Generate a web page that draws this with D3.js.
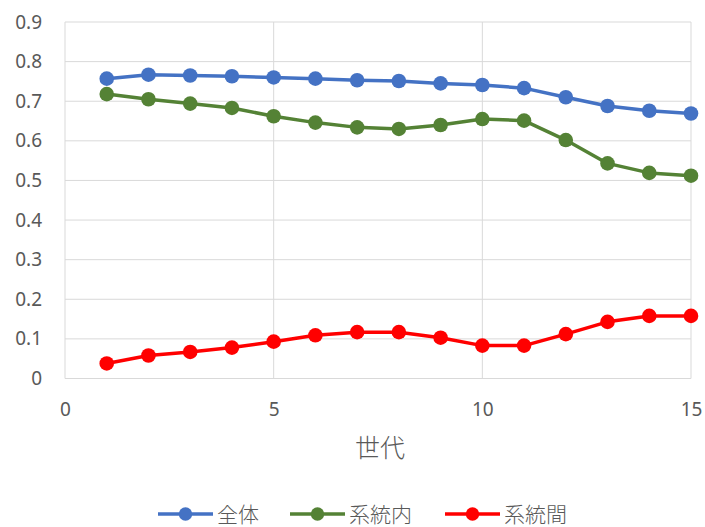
<!DOCTYPE html>
<html>
<head>
<meta charset="utf-8">
<script src="https://cdn.jsdelivr.net/npm/d3@7"></script>
<style>
  html, body { margin: 0; padding: 0; background: #fff; }
  svg text { font-family: "Noto Sans", "Noto Sans CJK JP", sans-serif; fill: #595959; }
  svg text.cjk { font-family: "Noto Sans CJK JP", sans-serif; font-weight: 300; }
</style>
</head>
<body>
<svg id="chart" width="705" height="527"></svg>
<script>
// Generations on the x axis
const generations = [1, 2, 3, 4, 5, 6, 7, 8, 9, 10, 11, 12, 13, 14, 15];

// Series values per generation
const overall = [0.757, 0.767, 0.765, 0.763, 0.760, 0.757, 0.753, 0.751, 0.745, 0.741, 0.733, 0.710, 0.688, 0.676, 0.669];
const withinLine = [0.718, 0.705, 0.694, 0.683, 0.662, 0.646, 0.634, 0.630, 0.640, 0.655, 0.651, 0.602, 0.543, 0.519, 0.512];
const betweenLine = [0.038, 0.058, 0.067, 0.078, 0.093, 0.109, 0.117, 0.117, 0.103, 0.083, 0.083, 0.112, 0.143, 0.158, 0.158];

const seriesNames = ["全体", "系統内", "系統間"];
const seriesColors = ["#4472C4", "#548235", "#FF0000"];

const xTicks = [0, 5, 10, 15];
const yTicks = [0, 0.1, 0.2, 0.3, 0.4, 0.5, 0.6, 0.7, 0.8, 0.9];
const xTitle = "世代";

const series = [overall, withinLine, betweenLine].map((vals, i) => ({
  name: seriesNames[i],
  color: seriesColors[i],
  points: vals.map((v, j) => ({ x: generations[j], y: v }))
}));

const svg = d3.select("#chart");
const margin = { left: 65, right: 14, top: 22, bottom: 148.5 };
const W = 705, H = 527;

const x = d3.scaleLinear().domain([0, 15]).range([margin.left, W - margin.right]);
const y = d3.scaleLinear().domain([0, 0.9]).range([H - margin.bottom, margin.top]);

// Gridlines
const grid = svg.append("g");
grid.selectAll("line.h").data(yTicks).join("line")
  .attr("x1", x(0)).attr("x2", x(15))
  .attr("y1", d => y(d)).attr("y2", d => y(d))
  .attr("stroke", "#D9D9D9").attr("stroke-width", 1);
grid.selectAll("line.v").data(xTicks).join("line")
  .attr("y1", y(0)).attr("y2", y(0.9))
  .attr("x1", d => x(d)).attr("x2", d => x(d))
  .attr("stroke", "#D9D9D9").attr("stroke-width", 1);

// Y axis
const yAxis = svg.append("g")
  .attr("transform", `translate(${margin.left},0)`)
  .call(d3.axisLeft(y).tickValues(yTicks).tickSize(0).tickPadding(23)
    .tickFormat(d => d === 0 ? "0" : d3.format(".1f")(d)));
yAxis.select(".domain").remove();
yAxis.selectAll("text").style("font-size", "19px").attr("fill", "#595959");

// X axis
const xAxis = svg.append("g")
  .attr("transform", `translate(0,${y(0)})`)
  .call(d3.axisBottom(x).tickValues(xTicks).tickSize(0).tickPadding(24));
xAxis.select(".domain").remove();
xAxis.selectAll("text").style("font-size", "19px").attr("fill", "#595959");

// X axis title
svg.append("text")
  .attr("class", "cjk")
  .attr("x", 380).attr("y", 446)
  .attr("text-anchor", "middle")
  .attr("dominant-baseline", "central")
  .style("font-size", "25px")
  .text(xTitle);

// Lines and markers
const line = d3.line().x(d => x(d.x)).y(d => y(d.y));
const sg = svg.selectAll("g.series").data(series).join("g").attr("class", "series");
sg.append("path")
  .attr("d", d => line(d.points))
  .attr("fill", "none")
  .attr("stroke", d => d.color)
  .attr("stroke-width", 3.5)
  .attr("stroke-linejoin", "round");
sg.each(function (d) {
  d3.select(this).selectAll("circle").data(d.points).join("circle")
    .attr("cx", p => x(p.x)).attr("cy", p => y(p.y))
    .attr("r", 7.3)
    .attr("fill", d.color);
});

// Legend
const legendX = [158, 290, 445];
const legend = svg.selectAll("g.legend").data(series).join("g")
  .attr("class", "legend")
  .attr("transform", (d, i) => `translate(${legendX[i]},514)`);
legend.append("line")
  .attr("x1", 0).attr("x2", 55).attr("y1", 0).attr("y2", 0)
  .attr("stroke", d => d.color).attr("stroke-width", 3.5);
legend.append("circle")
  .attr("cx", 27.5).attr("cy", 0).attr("r", 6.7)
  .attr("fill", d => d.color);
legend.append("text")
  .attr("class", "cjk")
  .attr("x", 59).attr("y", -0.8)
  .attr("dominant-baseline", "central")
  .style("font-size", "21px")
  .text(d => d.name);
</script>
</body>
</html>
